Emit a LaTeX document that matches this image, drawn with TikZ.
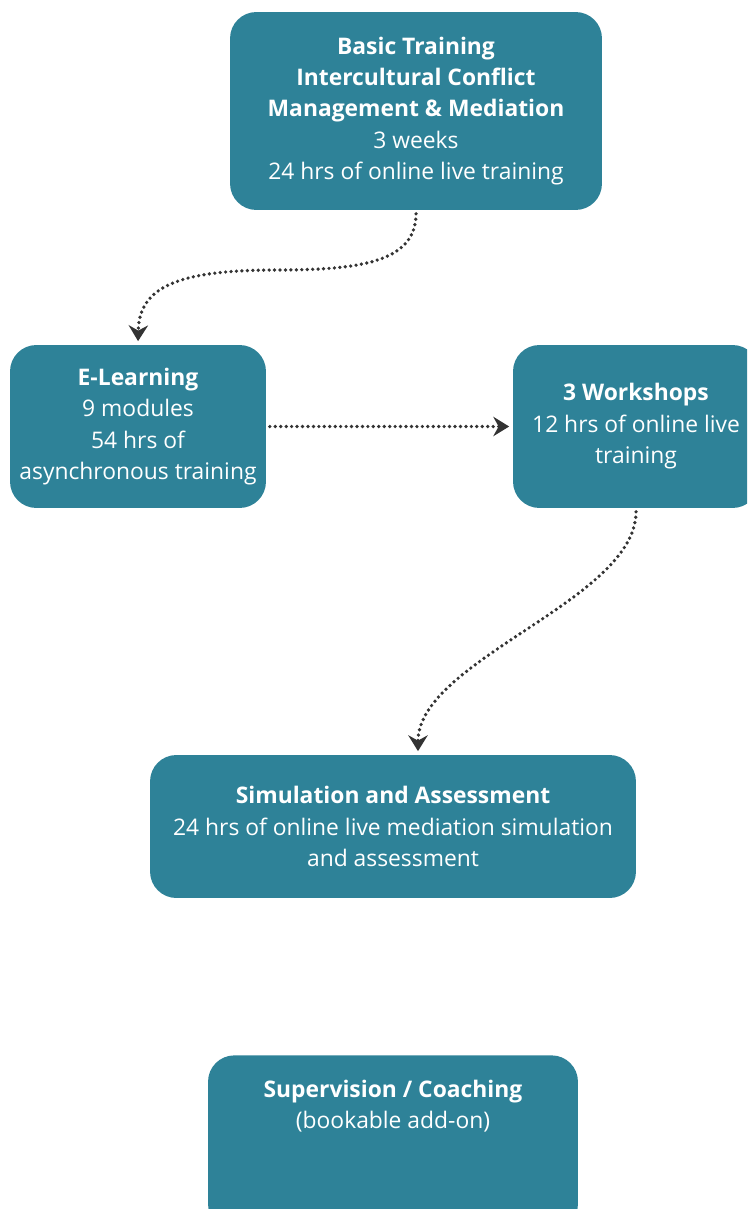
\documentclass[tikz,border=0pt]{standalone}
\usepackage{fontspec}
\setmainfont{Open Sans}
\usetikzlibrary{arrows.meta}
\definecolor{boxteal}{HTML}{2E8298}
\definecolor{arrowgray}{HTML}{333333}

\begin{document}
\begin{tikzpicture}[x=0.02cm,y=-0.02cm,
    box/.style={shape=rectangle,fill=boxteal,rounded corners=15pt,text=white,align=center,font=\fontsize{13}{17.9}\selectfont},
    flow/.style={draw=arrowgray,line width=2.1pt,line cap=round,dash pattern=on 0pt off 3.1pt,
      -{Stealth[length=9pt,width=11pt,inset=3pt]},shorten <=2pt,shorten >=2pt}]
  \useasboundingbox (0,0) rectangle (747,1209);
  \clip (0,0) rectangle (747,1209);

  \node[box,minimum width=7.44cm,minimum height=3.96cm] (B) at (416,111) {\textbf{Basic Training}\\\textbf{Intercultural Conflict}\\\textbf{Management \& Mediation}\\3 weeks\\24 hrs of online live training};
  \node[box,minimum width=5.12cm,minimum height=3.26cm] (E) at (138,426.5) {\textbf{E-Learning}\\9 modules\\54 hrs of\\asynchronous training};
  \node[box,minimum width=4.92cm,minimum height=3.26cm] (W) at (636,426.5) {\textbf{3 Workshops}\\12 hrs of online live\\training};
  \node[box,minimum width=9.72cm,minimum height=2.86cm] (S) at (393,826.5) {\textbf{Simulation and Assessment}\\24 hrs of online live mediation simulation\\and assessment};

  \node[box,minimum width=7.4cm,minimum height=3.5cm,anchor=north] (C) at (393,1055) {};
  \node[box,fill=none] (Ctext) at (393,1106) {\textbf{Supervision / Coaching}\\(bookable add-on)};

  \draw[flow] (B.south) .. controls (416,262) and (360,270) .. (277,270)
    .. controls (175,270) and (139,288) .. (E.north);
  \draw[flow] (E.east) -- (W.west);
  \draw[flow] (W.south) .. controls +(0,92) and +(0,-95) .. ([xshift=0.5cm]S.north);
\end{tikzpicture}
\end{document}
